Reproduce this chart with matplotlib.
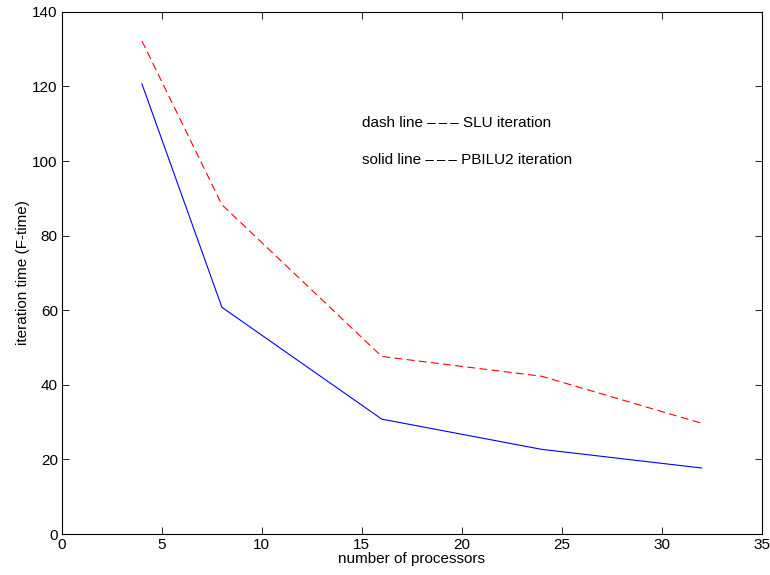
import matplotlib
matplotlib.use("Agg")
import matplotlib.pyplot as plt

plt.rcParams['font.family'] = ['Liberation Sans', 'DejaVu Sans']

processors = [4, 8, 16, 24, 32]
pbilu2_time = [120.7, 60.8, 30.8, 22.7, 17.7]
slu_time = [132.2, 88.3, 47.6, 42.3, 29.7]
xticks = [0, 5, 10, 15, 20, 25, 30, 35]
yticks = [0, 20, 40, 60, 80, 100, 120, 140]

fig = plt.figure(figsize=(7.7, 5.75), dpi=100)
ax = fig.add_axes([0.0805, 0.0713, 0.9085, 0.908])
ax.plot(processors, pbilu2_time, color='blue', linestyle='-', linewidth=0.8)
ax.plot(processors, slu_time, color='red', linestyle=(0, (7, 4)), linewidth=0.8)
ax.set_xlim(0, 35)
ax.set_ylim(0, 140)
ax.set_xticks(xticks)
ax.set_yticks(yticks)
ax.tick_params(direction='in', labelsize=11, length=5, width=0.6, top=True, right=True, pad=3)
for s in ax.spines.values():
    s.set_linewidth(0.8)
ax.set_xlabel('number of processors', fontsize=11, labelpad=0)
ax.set_ylabel('iteration time (F-time)', fontsize=11, labelpad=2)
sep = '\u2013\u2009\u2013\u2009\u2013'
ax.text(15, 110.3, f'dash line {sep} SLU iteration', fontsize=11, va='center')
ax.text(15, 100.3, f'solid line {sep} PBILU2 iteration', fontsize=11, va='center')
fig.savefig('out.png', dpi=100)
